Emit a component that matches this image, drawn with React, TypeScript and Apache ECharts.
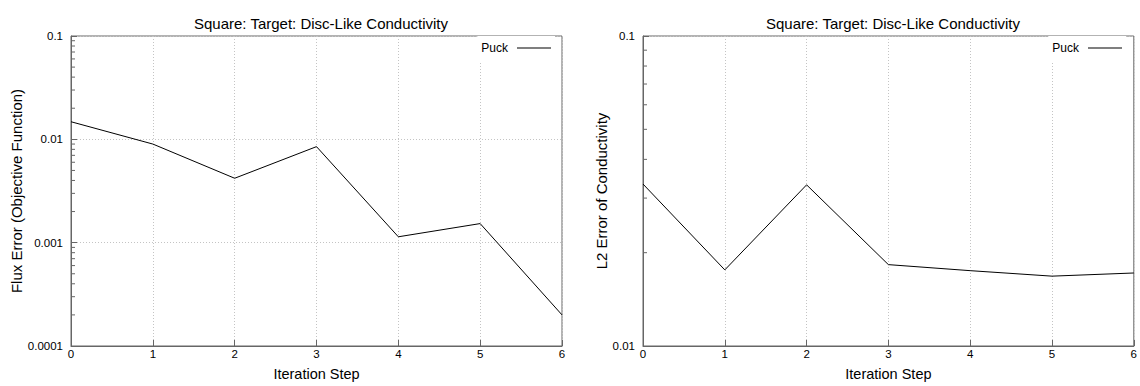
import React, { useEffect, useRef } from "react";
import * as echarts from "echarts";

// Iteration steps and the two error histories of the reconstruction
const steps = [0, 1, 2, 3, 4, 5, 6];
const fluxError = [0.0148, 0.009, 0.0042, 0.0085, 0.00114, 0.00153, 0.0002];
const l2Error = [0.0333, 0.0176, 0.0331, 0.0183, 0.0175, 0.0168, 0.0172];

const chartTitle = "Square: Target: Disc-Like Conductivity";
const xName = "Iteration Step";
const fluxName = "Flux Error (Objective Function)";
const l2Name = "L2 Error of Conductivity";
const seriesName = "Puck";
const fluxRange = [0.0001, 0.1];
const l2Range = [0.01, 0.1];

const FONT = "Liberation Sans, Arial, Helvetica, sans-serif";
const AXIS_COLOR = "#666";
const GRID_COLOR = "#c4c4c4";

// 2..9 × 10^k between the axis bounds
function minorValues(range: number[]): number[] {
  const out: number[] = [];
  const lo = Math.round(Math.log10(range[0]));
  const hi = Math.round(Math.log10(range[1]));
  for (let e = lo; e < hi; e++) {
    for (let m = 2; m <= 9; m++) out.push(m * Math.pow(10, e));
  }
  return out;
}

function decadeLabel(v: number): string {
  const e = Math.round(Math.log10(v));
  if (e >= 0) return String(Math.pow(10, e));
  return "0." + "0".repeat(-e - 1) + "1";
}

function xAxis(gridIndex: number) {
  return {
    type: "value",
    gridIndex,
    min: 0,
    max: 6,
    interval: 1,
    name: xName,
    nameLocation: "middle",
    nameGap: 20,
    nameTextStyle: { fontSize: 14.5, color: "#000", fontFamily: FONT },
    axisLine: { show: true, lineStyle: { color: AXIS_COLOR, width: 1 } },
    axisTick: { show: true, inside: true, length: 6, lineStyle: { color: AXIS_COLOR } },
    axisLabel: { margin: 2, fontSize: 11.5, color: "#000", fontFamily: FONT },
    splitLine: { show: true, lineStyle: { color: GRID_COLOR, type: [1, 2], width: 1 } },
  };
}

function yAxis(gridIndex: number, range: number[], name: string, nameGap: number) {
  return {
    type: "log",
    logBase: 10,
    gridIndex,
    min: range[0],
    max: range[1],
    name,
    nameLocation: "middle",
    nameGap,
    nameTextStyle: { fontSize: 15, color: "#000", fontFamily: FONT },
    axisLine: { show: true, lineStyle: { color: AXIS_COLOR, width: 1 } },
    axisTick: { show: true, inside: true, length: 6, lineStyle: { color: AXIS_COLOR } },
    axisLabel: { margin: 8, fontSize: 11.5, color: "#000", fontFamily: FONT, formatter: decadeLabel },
    splitLine: { show: true, lineStyle: { color: GRID_COLOR, type: [1, 2], width: 1 } },
  };
}

function minorTickSeries(index: number, range: number[]) {
  return {
    type: "custom",
    xAxisIndex: index,
    yAxisIndex: index,
    silent: true,
    clip: false,
    data: minorValues(range).map((v) => [0, v]),
    renderItem: (_params: any, api: any) => {
      const p = api.coord([0, api.value(1)]);
      return {
        type: "line",
        shape: { x1: p[0], y1: p[1], x2: p[0] + 4, y2: p[1] },
        style: { stroke: AXIS_COLOR, lineWidth: 1 },
      };
    },
  };
}

function lineSeries(index: number, values: number[]) {
  return {
    type: "line",
    name: seriesName,
    xAxisIndex: index,
    yAxisIndex: index,
    symbol: "none",
    showSymbol: false,
    lineStyle: { color: "#000", width: 1 },
    itemStyle: { color: "#000" },
    data: steps.map((s, i) => [s, values[i]]),
  };
}

function legend(right: number) {
  return {
    top: 36,
    right,
    orient: "horizontal",
    align: "right",
    selectedMode: false,
    icon: "rect",
    itemWidth: 34,
    itemHeight: 1,
    backgroundColor: "#fff",
    padding: [6, 4, 8, 4],
    itemStyle: { color: "#000", borderWidth: 0 },
    textStyle: { fontSize: 12, color: "#000", fontFamily: FONT, padding: [0, 4, 0, 0] },
    data: [{ name: seriesName }],
  };
}

export default function App() {
  const ref = useRef<HTMLDivElement>(null);

  useEffect(() => {
    if (!ref.current) return;
    const chart = echarts.init(ref.current, undefined, { renderer: "svg" });
    const titleStyle = { fontSize: 15, fontWeight: "normal", color: "#000", fontFamily: FONT };
    chart.setOption({
      animation: false,
      backgroundColor: "#fff",
      textStyle: { fontFamily: FONT },
      title: [
        { text: chartTitle, left: 316, top: 11, textAlign: "center", textStyle: titleStyle },
        { text: chartTitle, left: 888, top: 11, textAlign: "center", textStyle: titleStyle },
      ],
      legend: [legend(585), legend(14)],
      grid: [
        { left: 71, top: 36, width: 491, height: 319, show: true, borderColor: AXIS_COLOR, borderWidth: 1 },
        { left: 643, top: 36, width: 491, height: 318, show: true, borderColor: AXIS_COLOR, borderWidth: 1 },
      ],
      xAxis: [xAxis(0), xAxis(1)],
      yAxis: [yAxis(0, fluxRange, fluxName, 43), yAxis(1, l2Range, l2Name, 34)],
      series: [
        minorTickSeries(0, fluxRange),
        minorTickSeries(1, l2Range),
        lineSeries(0, fluxError),
        lineSeries(1, l2Error),
      ],
    });
    return () => chart.dispose();
  }, []);

  return (
    <div
      ref={ref}
      style={{ position: "fixed", left: 0, top: 0, width: 1140, height: 386, background: "#fff" }}
    />
  );
}
